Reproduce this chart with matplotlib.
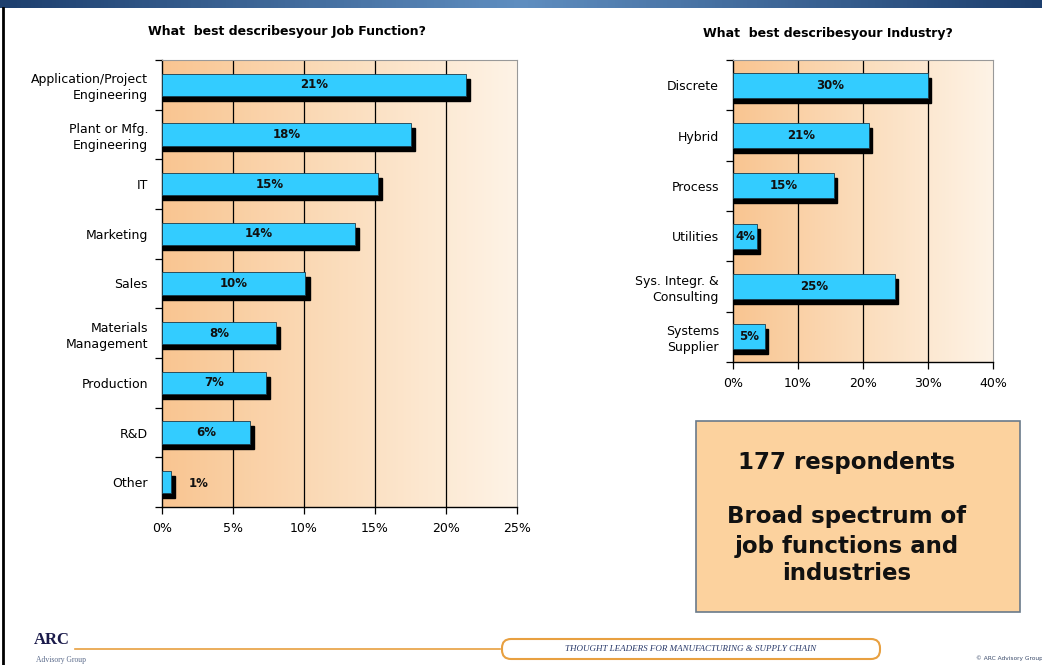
import numpy as np
import matplotlib.pyplot as plt
from matplotlib.patches import Rectangle, FancyBboxPatch
from matplotlib.colors import LinearSegmentedColormap
from matplotlib.ticker import FuncFormatter, FixedLocator

# Job function data
job_labels = ["Application/Project\nEngineering", "Plant or Mfg.\nEngineering", "IT",
              "Marketing", "Sales", "Materials\nManagement", "Production", "R&D", "Other"]
job_values = [21.4, 17.5, 15.2, 13.6, 10.1, 8.0, 7.3, 6.2, 0.6]
job_text = ["21%", "18%", "15%", "14%", "10%", "8%", "7%", "6%", "1%"]

# Industry data
ind_labels = ["Discrete", "Hybrid", "Process", "Utilities",
              "Sys. Integr. &\nConsulting", "Systems\nSupplier"]
ind_values = [30.0, 20.9, 15.5, 3.7, 24.9, 4.9]
ind_text = ["30%", "21%", "15%", "4%", "25%", "5%"]

W, H = 1042, 665
fig = plt.figure(figsize=(W / 100, H / 100), dpi=100)
fig.patch.set_facecolor("white")

bg = LinearSegmentedColormap.from_list("bg", ["#F9C591", "#FBDDBC", "#FEF3E6"])


def px_axes(x0, y0, x1, y1):
    return fig.add_axes([x0 / W, 1 - y1 / H, (x1 - x0) / W, (y1 - y0) / H])


def bar_panel(ax, labels, values, texts, xmax, step, h):
    n = len(labels)
    ax.imshow(np.linspace(0, 1, 200)[None, :], cmap=bg, aspect="auto",
              extent=[0, xmax, n - 0.5, -0.5], zorder=0)
    ax.set_xlim(0, xmax)
    ax.set_ylim(n - 0.5, -0.5)
    for gx in np.arange(step, xmax, step):
        ax.axvline(gx, color="black", lw=0.9, zorder=1)
    for i, v in enumerate(values):
        dx = xmax * 0.012
        ax.add_patch(Rectangle((0, i - h / 2 + 0.1), v + dx, h, color="black", zorder=2))
        ax.add_patch(Rectangle((0, i - h / 2), v, h, facecolor="#33CCFF",
                               edgecolor="#1a3a4a", lw=0.6, zorder=3))
        if v > xmax * 0.08:
            ax.text(v / 2, i, texts[i], ha="center", va="center", fontsize=8.5,
                    fontweight="bold", color="#111111", zorder=4)
        else:
            ax.text(v + xmax * (0.04 if v > 2 else 0.05), i + 0.02, texts[i], ha="left", va="center",
                    fontsize=8.5, fontweight="bold", color="#111111", zorder=4)
    ax.set_xticks(np.arange(0, xmax + step / 2, step))
    ax.xaxis.set_major_formatter(FuncFormatter(lambda x, p: f"{x:.0f}%"))
    ax.set_yticks(range(n))
    ax.set_yticklabels(labels, fontsize=9, linespacing=1.3)
    ax.yaxis.set_minor_locator(FixedLocator(np.arange(-0.5, n, 1)))
    ax.tick_params(axis="y", which="major", length=0, pad=10)
    ax.tick_params(axis="y", which="minor", length=5, width=0.9)
    ax.tick_params(axis="x", length=5, width=0.9, labelsize=9, pad=6)
    for s in ["top", "right"]:
        ax.spines[s].set_color("#999999")
        ax.spines[s].set_linewidth(0.8)
    for s in ["left", "bottom"]:
        ax.spines[s].set_color("black")
        ax.spines[s].set_linewidth(1.0)


ax1 = px_axes(162, 60, 517, 507)
bar_panel(ax1, job_labels, job_values, job_text, 25, 5, 0.45)

ax2 = px_axes(733, 60, 993, 362)
bar_panel(ax2, ind_labels, ind_values, ind_text, 40, 10, 0.5)

# slide decorations
deco = fig.add_axes([0, 0, 1, 1], zorder=-1)
deco.set_xlim(0, W)
deco.set_ylim(H, 0)
deco.axis("off")
top = LinearSegmentedColormap.from_list("top", ["#1d3f6e", "#5f8ec0", "#1d3f6e"])
deco.imshow(np.linspace(0, 1, 300)[None, :], cmap=top, aspect="auto",
            extent=[0, W, 8, 0])
deco.plot([3, 3], [8, 665], color="black", lw=2)

ov = fig.add_axes([0, 0, 1, 1], zorder=5)
ov.set_xlim(0, W)
ov.set_ylim(H, 0)
ov.axis("off")

# panel titles
ov.text(287, 31, "What  best describesyour Job Function?", ha="center", va="center",
        fontsize=9, fontweight="bold")
ov.text(828, 33, "What  best describesyour Industry?", ha="center", va="center",
        fontsize=9, fontweight="bold")

# summary box
ov.add_patch(Rectangle((696, 421), 324, 191, facecolor="#FCD29E",
                       edgecolor="#6a7a8a", lw=1.2))
box_lines = ["177 respondents", "Broad spectrum of", "job functions and", "industries"]
box_y = [463, 517, 546, 574]
for txt, yy in zip(box_lines, box_y):
    ov.text(847, yy, txt, ha="center", va="center", fontsize=16.5, fontweight="bold",
            color="#111111")

# footer
ov.text(34, 640, "ARC", fontsize=12, fontweight="bold", family="Liberation Serif",
        color="#1a1a4a", ha="left", va="center")
ov.text(36, 660, "Advisory Group", fontsize=5.5, family="Liberation Serif",
        color="#5a6a8a", ha="left", va="center")
ov.plot([75, 500], [649, 649], color="#E8A040", lw=1.2)
ov.add_patch(FancyBboxPatch((502, 639), 378, 20, boxstyle="round,pad=0,rounding_size=9",
                            facecolor="white", edgecolor="#E8A040", lw=1.5))
ov.text(691, 649, "THOUGHT LEADERS FOR MANUFACTURING & SUPPLY CHAIN", ha="center",
        va="center", fontsize=6.5, style="italic", color="#2a3a6a", family="Liberation Serif")
ov.text(976, 658, "© ARC Advisory Group", fontsize=4.2, color="#3a4a6a",
        ha="left", va="center")

fig.savefig("out.png", dpi=100)
